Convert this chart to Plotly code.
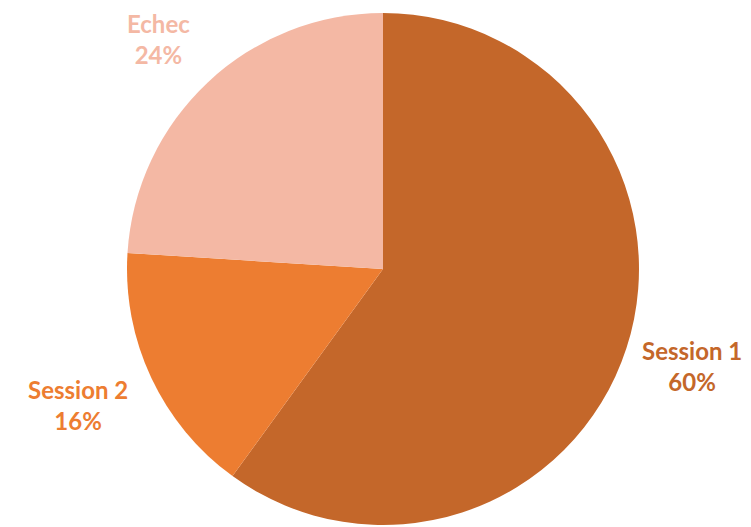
import numpy as np
import plotly.graph_objects as go

labels = ["Session 1", "Session 2", "Echec"]
values = [60, 16, 24]
colors = ["#C4672A", "#ED7D31", "#F4B8A4"]

# page body adds an 8px margin, so the figure is 8px smaller and shifted back
W, H = 743, 519
cx, cy, r = 375, 261, 256
# small per-label nudges (px) to match the original label placement
nudges = [(5, 2), (-15, 0), (-5, -3)]

fig = go.Figure()
fig.add_trace(go.Pie(
    labels=labels, values=values, sort=False, direction="clockwise", rotation=0,
    marker=dict(colors=colors, line=dict(width=0)),
    textinfo="none", hoverinfo="label+percent", showlegend=False,
    domain=dict(x=[(cx - r) / W, (cx + r) / W], y=[(H - cy - r) / H, (H - cy + r) / H]),
))

# labels outside the slices, placed along each slice's mid angle
total = sum(values)
start = 0
for lab, val, col, (dx, dy) in zip(labels, values, colors, nudges):
    mid = np.radians((start + val / 2) / total * 360)
    start += val
    lx = cx + 1.25 * r * np.sin(mid)
    ly = cy - 1.25 * r * np.cos(mid)
    fig.add_annotation(
        x=lx / W, y=1 - ly / H, xref="paper", yref="paper",
        xanchor="center", yanchor="middle", xshift=dx, yshift=dy,
        text=f"{lab}<br>{round(val / total * 100)}%", showarrow=False,
        font=dict(family="Lato", size=24, color=col, weight="bold"),
    )

fig.update_layout(
    width=W, height=H, margin=dict(l=0, r=0, t=0, b=0),
    paper_bgcolor="white", plot_bgcolor="white",
)

fig.write_html("out.html")
